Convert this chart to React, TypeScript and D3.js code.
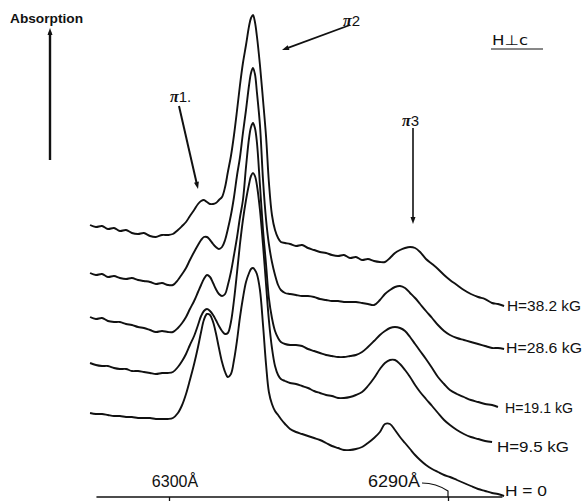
import React, { useEffect, useRef } from 'react';
import * as d3 from 'd3';

// wavelength grid (Å) the traces were read at, denser around the peaks
const wavelengths = [
  6302.83, 6302.62, 6302.40, 6302.19, 6301.97, 6301.76, 6301.54, 6301.33, 6301.11, 6300.90,
  6300.68, 6300.47, 6300.25, 6300.04, 6299.86, 6299.68, 6299.53, 6299.39, 6299.25, 6299.10,
  6298.96, 6298.85, 6298.75, 6298.64, 6298.53, 6298.42, 6298.32, 6298.21, 6298.10, 6297.99,
  6297.89, 6297.78, 6297.67, 6297.56, 6297.46, 6297.35, 6297.24, 6297.13, 6297.06, 6296.99,
  6296.92, 6296.85, 6296.74, 6296.63, 6296.52, 6296.42, 6296.31, 6296.20, 6296.09, 6295.99,
  6295.84, 6295.66, 6295.45, 6295.23, 6295.02, 6294.80, 6294.59, 6294.37, 6294.16, 6293.94,
  6293.73, 6293.51, 6293.30, 6293.08, 6292.87, 6292.65, 6292.44, 6292.26, 6292.08, 6291.90,
  6291.72, 6291.54, 6291.36, 6291.18, 6291.00, 6290.79, 6290.57, 6290.36, 6290.14, 6289.93,
  6289.68, 6289.43, 6289.18, 6288.92, 6288.67, 6288.42, 6288.21, 6287.99,
];

// absorption (arbitrary units), traces offset vertically as plotted
const traceH382 = [
  272, 270, 271, 268, 269, 266, 267, 264, 263, 264, 261, 260, 262, 262, 263, 267, 271, 275, 281, 287,
  293, 296, 297, 295, 293, 293, 294, 297, 300, 310, 325, 341, 362, 387, 411, 434, 452, 471, 479, 482,
  475, 461, 432, 397, 360, 315, 282, 267, 259, 255, 254, 253, 251, 252, 249, 247, 245, 244, 242, 241,
  242, 239, 240, 237, 238, 236, 235, 235, 239, 244, 247, 249, 250, 249, 245, 238, 233, 228, 222, 217,
  212, 207, 203, 200, 198, 194, 193, 191,
];
const traceH286 = [
  224, 222, 223, 220, 221, 219, 218, 219, 217, 216, 215, 213, 214, 212, 212, 217, 223, 229, 237, 245,
  252, 257, 260, 260, 257, 253, 250, 248, 250, 257, 268, 282, 300, 322, 339, 364, 387, 412, 424, 429,
  423, 405, 372, 317, 277, 253, 235, 222, 212, 207, 204, 203, 202, 201, 201, 200, 198, 197, 196, 196,
  195, 195, 195, 194, 193, 192, 197, 203, 207, 210, 211, 209, 204, 199, 193, 186, 179, 172, 166, 162,
  159, 157, 155, 153, 151, 149, 149, 148,
];
const traceH191 = [
  180, 178, 179, 176, 175, 175, 173, 172, 170, 169, 167, 165, 166, 165, 165, 169, 174, 180, 188, 196,
  205, 212, 218, 222, 220, 214, 208, 203, 201, 203, 212, 225, 242, 260, 279, 297, 330, 359, 370, 374,
  369, 355, 312, 267, 232, 199, 179, 166, 159, 155, 153, 152, 152, 151, 148, 146, 144, 142, 141, 140,
  140, 141, 142, 145, 150, 156, 162, 166, 169, 170, 169, 166, 160, 153, 146, 138, 129, 120, 113, 107,
  103, 100, 97, 95, 93, 92, 90, NaN,
];
const traceH95 = [
  134, 132, 131, 131, 129, 128, 128, 126, 126, 125, 124, 123, 124, 124, 125, 130, 136, 143, 152, 161,
  172, 181, 186, 188, 186, 182, 177, 171, 166, 163, 164, 175, 197, 225, 252, 277, 297, 313, 321, 324,
  321, 312, 287, 252, 212, 177, 149, 131, 122, 118, 116, 114, 113, 111, 109, 106, 104, 102, 101, 99,
  99, 100, 102, 105, 111, 119, 128, 134, 137, 137, 133, 127, 120, 112, 105, 98, 91, 84, 77, 72,
  67, 63, 60, 58, 56, 55, NaN, NaN,
];
const traceH0 = [
  84, 83, 83, 82, 81, 81, 80, 80, 79, 79, 79, 78, 78, 78, 79, 84, 92, 103, 117, 133,
  150, 165, 177, 183, 182, 175, 164, 149, 135, 125, 120, 123, 137, 157, 179, 199, 215, 224, 228, 229,
  227, 223, 207, 172, 132, 105, 93, 86, 82, 78, 73, 68, 65, 63, 61, 59, 57, 54, 51, 49,
  47, 47, 48, 50, 54, 59, 65, 73, 73, 67, 60, 54, 48, 42, 37, 32, 28, 25, 22, 20,
  17, 14, 11, 8, 6, 4, 3, 1,
];

const traces = [traceH382, traceH286, traceH191, traceH95, traceH0];
const fieldLabels = ['H=38.2 kG', 'H=28.6 kG', 'H=19.1 kG', 'H=9.5 kG', 'H = 0'];
const axisTicks = [6300, 6290];
const axisTickLabels = ['6300Å', '6290Å'];

const App: React.FC = () => {
  const svgRef = useRef<SVGSVGElement | null>(null);

  useEffect(() => {
    if (!svgRef.current) return;
    const svg = d3.select(svgRef.current);
    svg.selectAll('*').remove();

    const ink = '#111';
    const x = d3.scaleLinear().domain([6300, 6290]).range([169, 448]);
    const y = d3.scaleLinear().domain([0, 480]).range([497, 17]);

    const line = d3.line<number>()
      .defined(d => !isNaN(d))
      .x((_, i) => x(wavelengths[i]))
      .y(d => y(d))
      .curve(d3.curveCatmullRom.alpha(0.5));

    svg.selectAll('.trace')
      .data(traces)
      .enter()
      .append('path')
      .attr('class', 'trace')
      .attr('d', d => line(d))
      .attr('fill', 'none')
      .attr('stroke', ink)
      .attr('stroke-width', 1.9)
      .attr('stroke-linejoin', 'round');

    // field labels at the right end of each trace
    const labelPos = [
      { x: 507, y: 311, w: 74 },
      { x: 506, y: 353, w: 76 },
      { x: 505, y: 413, w: 68 },
      { x: 497, y: 452, w: 72 },
      { x: 505, y: 496, w: 42 },
    ];
    svg.selectAll('.field')
      .data(fieldLabels)
      .enter()
      .append('text')
      .attr('class', 'field')
      .attr('x', (_, i) => labelPos[i].x)
      .attr('y', (_, i) => labelPos[i].y)
      .attr('textLength', (_, i) => labelPos[i].w)
      .attr('lengthAdjust', 'spacingAndGlyphs')
      .attr('font-family', 'Liberation Sans, Arial, sans-serif')
      .attr('font-size', 15.5)
      .attr('fill', ink)
      .text(d => d);

    // wavelength axis
    const base = y(0);
    svg.append('line')
      .attr('x1', x(6302.6)).attr('x2', x(6288.05))
      .attr('y1', base).attr('y2', base)
      .attr('stroke', ink).attr('stroke-width', 1.3);

    const axis = svg.append('g')
      .attr('transform', `translate(0,${base})`)
      .call(d3.axisBottom(x).tickValues(axisTicks).tickSize(4).tickFormat(() => ''));
    axis.select('.domain').remove();
    axis.selectAll('line').attr('stroke', ink).attr('stroke-width', 1.3);

    svg.append('path')
      .attr('d', `M${x(6290) - 26},${base - 14} Q${x(6290) - 12},${base - 14} ${x(6290)},${base - 6} L${x(6290)},${base}`)
      .attr('fill', 'none').attr('stroke', ink).attr('stroke-width', 1.2);

    svg.append('text')
      .attr('x', x(axisTicks[0]) + 6).attr('y', base - 10)
      .attr('text-anchor', 'middle')
      .attr('font-family', 'Liberation Sans, Arial, sans-serif')
      .attr('font-size', 16).attr('fill', ink)
      .text(axisTickLabels[0]);
    svg.append('text')
      .attr('x', x(axisTicks[1]) - 80).attr('y', base - 10)
      .attr('textLength', 52).attr('lengthAdjust', 'spacingAndGlyphs')
      .attr('font-family', 'Liberation Sans, Arial, sans-serif')
      .attr('font-size', 16).attr('fill', ink)
      .text(axisTickLabels[1]);

    // arrows
    const arrow = (x1: number, y1: number, x2: number, y2: number, w: number) => {
      const a = Math.atan2(y2 - y1, x2 - x1);
      const len = 7;
      svg.append('line')
        .attr('x1', x1).attr('y1', y1)
        .attr('x2', x2 - Math.cos(a) * len * 0.6).attr('y2', y2 - Math.sin(a) * len * 0.6)
        .attr('stroke', ink).attr('stroke-width', w);
      const p1 = [x2 - Math.cos(a) * len + Math.sin(a) * 2.5, y2 - Math.sin(a) * len - Math.cos(a) * 2.5];
      const p2 = [x2 - Math.cos(a) * len - Math.sin(a) * 2.5, y2 - Math.sin(a) * len + Math.cos(a) * 2.5];
      svg.append('path')
        .attr('d', `M${x2},${y2}L${p1[0]},${p1[1]}L${p2[0]},${p2[1]}Z`)
        .attr('fill', ink);
    };
    arrow(50, 160, 50, 28, 2.4);
    arrow(179, 106, 198, 189, 2);
    arrow(350, 25, 282, 50, 1.8);
    arrow(413, 128, 413, 224, 1.6);

    svg.append('text')
      .attr('x', 10).attr('y', 23)
      .attr('textLength', 73).attr('lengthAdjust', 'spacingAndGlyphs')
      .attr('font-family', 'Liberation Sans, Arial, sans-serif')
      .attr('font-weight', 'bold').attr('font-size', 13).attr('fill', ink)
      .text('Absorption');

    const pi = (px: number, py: number, label: string) => {
      const t = svg.append('text')
        .attr('x', px).attr('y', py)
        .attr('font-size', 16).attr('fill', ink);
      t.append('tspan')
        .attr('font-family', 'Liberation Serif, serif')
        .attr('font-style', 'italic').attr('font-weight', 'bold')
        .text('π');
      t.append('tspan')
        .attr('font-family', 'Liberation Sans, Arial, sans-serif')
        .attr('font-size', 15)
        .text(label);
    };
    pi(170, 102, '1.');
    pi(343, 26, '2');
    pi(402, 126, '3');

    svg.append('text')
      .attr('x', 492).attr('y', 45)
      .attr('textLength', 36).attr('lengthAdjust', 'spacingAndGlyphs')
      .attr('font-family', 'DejaVu Sans, sans-serif')
      .attr('font-size', 14).attr('fill', ink)
      .text('H⊥c');
    svg.append('line')
      .attr('x1', 491).attr('x2', 543).attr('y1', 49).attr('y2', 49)
      .attr('stroke', ink).attr('stroke-width', 1);
  }, []);

  return (
    <svg
      ref={svgRef}
      width={586}
      height={501}
      style={{ position: 'absolute', left: 0, top: 0, background: '#fff' }}
    />
  );
};

export default App;
